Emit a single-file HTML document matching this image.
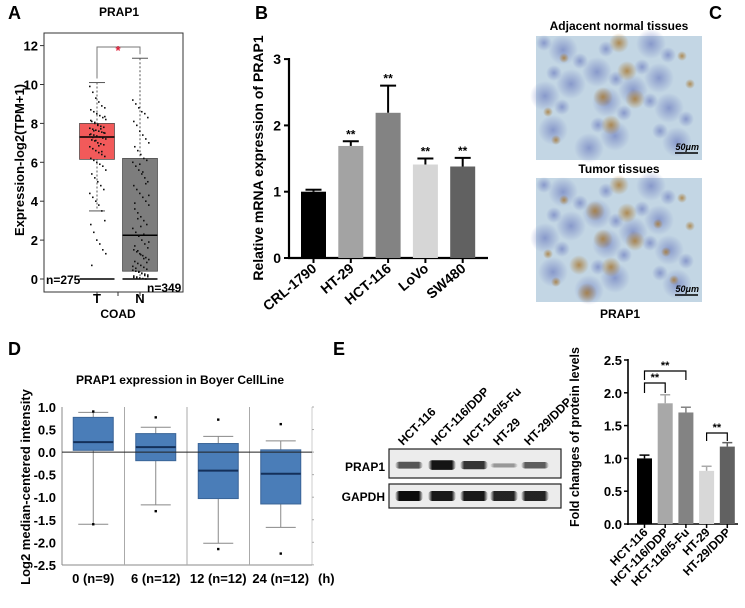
<!DOCTYPE html>
<html><head><meta charset="utf-8">
<style>
html,body{margin:0;padding:0;background:#fff;}
body{width:745px;height:603px;overflow:hidden;font-family:"Liberation Sans",Arial,sans-serif;}
svg text{font-family:"Liberation Sans",Arial,sans-serif;}
</style></head>
<body>
<svg id="fig" width="745" height="603" viewBox="0 0 745 603" xmlns="http://www.w3.org/2000/svg">
<defs>
<radialGradient id="br" cx="50%" cy="50%" r="50%"><stop offset="0" stop-color="#a87830" stop-opacity="0.8"/><stop offset="1" stop-color="#a87830" stop-opacity="0"/></radialGradient>
<radialGradient id="bl" cx="50%" cy="50%" r="50%"><stop offset="0" stop-color="#6f7fc0" stop-opacity="0.7"/><stop offset="1" stop-color="#6f7fc0" stop-opacity="0"/></radialGradient>
<linearGradient id="band" x1="0" x2="1"><stop offset="0" stop-color="#000" stop-opacity="0"/><stop offset="0.15" stop-color="#000"/><stop offset="0.85" stop-color="#000"/><stop offset="1" stop-color="#000" stop-opacity="0"/></linearGradient>
</defs>
<g id="pA"></g>
<g id="pB"></g>
<g id="pC"></g>
<g id="pD"></g>
<g id="pE"></g>
</svg>
<script>
// ---------- Panel A data ----------
const aGroups = ["T","N"];
const aCounts = ["n=275","n=349"];
const aQ1 = [6.15, 0.4];
const aQ3 = [8.0, 6.2];
const aMed = [7.3, 2.25];
const aWhiskLo = [3.5, 0];
const aWhiskHi = [10.1, 11.35];
const aTicks = [0,2,4,6,8,10,12];
const aPointsT = [9.9,9.6,9.3,9.1,8.9,8.8,8.7,8.6,8.5,8.4,8.3,8.2,8.1,8.0,7.9,7.85,7.8,7.75,7.7,7.65,7.6,7.55,7.5,7.45,7.4,7.35,7.3,7.25,7.2,7.15,7.1,7.0,6.95,6.9,6.8,6.7,6.6,6.5,6.4,6.3,6.2,6.1,6.0,5.9,5.8,5.6,5.4,5.2,5.0,4.8,4.6,4.4,4.2,4.0,3.8,3.5,3.0,2.8,2.4,2.0,1.8,1.5,1.3,0.7,8.05,7.95,7.72,7.52,7.42,7.28,7.12,6.85,6.55,8.35,8.15,7.62];
const aPointsN = [9.2,9.0,8.8,8.6,8.5,8.3,8.1,7.9,7.6,7.4,7.2,7.0,6.8,6.6,6.4,6.2,6.1,6.0,5.8,5.6,5.4,5.2,5.0,4.8,4.6,4.4,4.2,4.0,3.8,3.6,3.4,3.2,3.0,2.8,2.6,2.4,2.2,2.0,1.8,1.6,1.5,1.4,1.3,1.2,1.1,1.0,0.9,0.8,0.7,0.6,0.5,0.45,0.4,0.35,0.3,0.25,0.2,0.15,0.1,0.05,0.02,0.0,1.9,1.7,1.45,1.25,1.05,0.85,0.65,0.55,0.38,0.28,0.18,0.12,0.08,0.03,5.9,5.5,4.9,4.3,3.9,3.1,2.7,2.3];

// ---------- Panel B data ----------
const bCats = ["CRL-1790","HT-29","HCT-116","LoVo","SW480"];
const bVals = [1.0, 1.69, 2.19, 1.41, 1.38];
const bErr = [0.03, 0.07, 0.41, 0.09, 0.13];
const bSig = ["","**","**","**","**"];
const bTicks = [0,1,2,3];

// ---------- Panel D data ----------
const dCats = ["0 (n=9)","6 (n=12)","12 (n=12)","24 (n=12)"];
const dQ1 = [0.04, -0.19, -1.03, -1.15];
const dMed = [0.22, 0.11, -0.41, -0.48];
const dQ3 = [0.77, 0.41, 0.19, 0.05];
const dWLo = [-1.6, -1.17, -2.02, -1.67];
const dWHi = [0.88, 0.55, 0.35, 0.25];
const dOutHi = [0.9, 0.77, 0.72, 0.62];
const dOutLo = [-1.6, -1.31, -2.15, -2.25];
const dTicks = [1.0,0.5,0.0,-0.5,-1.0,-1.5,-2.0,-2.5];

// ---------- Panel E data ----------
const eCats = ["HCT-116","HCT-116/DDP","HCT-116/5-Fu","HT-29","HT-29/DDP"];
const eVals = [1.0, 1.84, 1.70, 0.81, 1.18];
const eErr = [0.05, 0.13, 0.08, 0.07, 0.06];
const eTicks = [0.0,0.5,1.0,1.5,2.0,2.5];
const eBands = [0.55, 0.95, 0.75, 0.15, 0.5];
const eGapdh = [0.95, 0.9, 0.9, 0.85, 0.85];

const NS="http://www.w3.org/2000/svg";
function mk(parent, tag, attrs, txt){
  const e=document.createElementNS(NS,tag);
  for(const k in attrs) e.setAttribute(k,attrs[k]);
  if(txt!==undefined) e.textContent=txt;
  parent.appendChild(e); return e;
}

// ===== Panel A =====
(function(){
  const g=document.getElementById('pA');
  const y=v=>279-v*19.45;
  const cx=[97,140], hw=[17.5,17.5];
  let t=mk(g,'text',{x:8,y:19,'font-size':18,'font-weight':'bold'},'A');
   
  t=mk(g,'text',{x:119,y:16,'font-size':12,'font-weight':'bold','text-anchor':'middle'},'PRAP1');
   
  let r=mk(g,'rect',{x:44,y:33,width:139,height:259,fill:'none',stroke:'#333','stroke-width':1});
   
  aTicks.forEach(v=>{
    mk(g,'line',{x1:40,x2:44,y1:y(v),y2:y(v),stroke:'#333'});
    let tt=mk(g,'text',{x:38,y:y(v)+5,'font-size':13,'font-weight':'bold','text-anchor':'end'},String(v));
     
  });
  t=mk(g,'text',{transform:'translate(24,160) rotate(-90)','font-size':13,'font-weight':'bold','text-anchor':'middle'},'Expression-log2(TPM+1)');
   
  const cols=['#f25a5a','#7d7d7d'];
  const pts=[aPointsT,aPointsN];
  aGroups.forEach((gn,i)=>{
    const x=cx[i];
    mk(g,'line',{x1:x,x2:x,y1:y(aWhiskHi[i]),y2:y(aWhiskLo[i]),stroke:'#555','stroke-dasharray':'2,2'});
    mk(g,'line',{x1:x-8,x2:x+8,y1:y(aWhiskHi[i]),y2:y(aWhiskHi[i]),stroke:'#555'});
    mk(g,'line',{x1:x-8,x2:x+8,y1:y(aWhiskLo[i]),y2:y(aWhiskLo[i]),stroke:'#555'});
    let b=mk(g,'rect',{x:x-hw[i],y:y(aQ3[i]),width:hw[i]*2,height:y(aQ1[i])-y(aQ3[i]),fill:cols[i],stroke:'#444','stroke-width':0.7});
     
    mk(g,'line',{x1:x-hw[i],x2:x+hw[i],y1:y(aMed[i]),y2:y(aMed[i]),stroke:'#000','stroke-width':1.5});
    mk(g,'line',{x1:x-hw[i],x2:x+hw[i],y1:y(0),y2:y(0),stroke:'#000','stroke-width':1.5});
    pts[i].forEach((v,k)=>{
      const off=((k*37)%17)-8;
      const c=mk(g,'rect',{x:x+off,y:y(v)-0.8,width:1.6,height:1.6,fill:'#111'});
       
    });
    mk(g,'line',{x1:x,x2:x,y1:292,y2:296,stroke:'#333'});
    let tl=mk(g,'text',{x:x,y:303,'font-size':13,'font-weight':'bold','text-anchor':'middle'},gn);
     
  });
  mk(g,'line',{x1:118,x2:118,y1:292,y2:296,stroke:'#333'});
  t=mk(g,'text',{x:46,y:284,'font-size':12,'font-weight':'bold'},aCounts[0]);
   
  t=mk(g,'text',{x:147,y:292,'font-size':12,'font-weight':'bold'},aCounts[1]);
   
  t=mk(g,'text',{x:118,y:318,'font-size':12,'font-weight':'bold','text-anchor':'middle'},'COAD');
   
  mk(g,'path',{d:`M${cx[0]} ${y(aWhiskHi[0])-4} V47 H${cx[1]} V${y(aWhiskHi[1])-4}`,fill:'none',stroke:'#777'});
  t=mk(g,'text',{x:118,y:55,'font-size':13,fill:'#e0203a','text-anchor':'middle','font-weight':'bold'},'*');
   
})();

// ===== Panel B =====
(function(){
  const g=document.getElementById('pB');
  const y=v=>258-v*66.3;
  const x0=301, step=37.3, bw=25;
  const cols=['#000','#a3a3a3','#838383','#d6d6d6','#616161'];
  let t=mk(g,'text',{x:255,y:19,'font-size':18,'font-weight':'bold'},'B');
   
  mk(g,'line',{x1:289,x2:289,y1:58,y2:259,stroke:'#000','stroke-width':2.2});
  mk(g,'line',{x1:288,x2:488,y1:258,y2:258,stroke:'#000','stroke-width':2.2});
  bTicks.forEach(v=>{
    mk(g,'line',{x1:284,x2:289,y1:y(v),y2:y(v),stroke:'#000','stroke-width':2});
    let tt=mk(g,'text',{x:281,y:y(v)+5,'font-size':14,'font-weight':'bold','text-anchor':'end'},String(v));
     
  });
  t=mk(g,'text',{transform:'translate(263,158) rotate(-90)','font-size':14,'font-weight':'bold','text-anchor':'middle'},'Relative mRNA expression of PRAP1');
   
  bCats.forEach((c,i)=>{
    const x=x0+i*step, cxp=x+bw/2;
    const top=bVals[i]+bErr[i];
    mk(g,'line',{x1:cxp,x2:cxp,y1:y(bVals[i]),y2:y(top),stroke:'#000','stroke-width':2});
    mk(g,'line',{x1:cxp-8,x2:cxp+8,y1:y(top),y2:y(top),stroke:'#000','stroke-width':2});
    let b=mk(g,'rect',{x:x,y:y(bVals[i]),width:bw,height:y(0)-y(bVals[i]),fill:cols[i]});
     
    if(bSig[i]){let s=mk(g,'text',{x:cxp,y:y(top)-3,'font-size':12,'font-weight':'bold','text-anchor':'middle'},bSig[i]);
       }
    mk(g,'line',{x1:cxp,x2:cxp,y1:258,y2:263,stroke:'#000','stroke-width':2});
    let tl=mk(g,'text',{transform:`translate(${cxp+4},${270}) rotate(-40)`,'font-size':14,'font-weight':'bold','text-anchor':'end'},c);
     
  });
})();

// ===== Panel C =====
(function(){
  const g=document.getElementById('pC');
  let t=mk(g,'text',{x:709,y:19,'font-size':18,'font-weight':'bold'},'C');
   
  const titles=['Adjacent normal tissues','Tumor tissues'];
  const tys=[30,173], iys=[36,178];
  const names=['ihc-normal-image','ihc-tumor-image'];
  titles.forEach((s,i)=>{
    let tt=mk(g,'text',{x:619,y:tys[i],'font-size':12,'font-weight':'bold','text-anchor':'middle'},s);
     
    const im=mk(g,'g',{});
     
    mk(im,'rect',{x:536,y:iys[i],width:166,height:124,fill:'#c3d6e4'});
    for(let k=0;k<26;k++){
      const bx=536+((k*53)%150)+8, by=iys[i]+((k*29)%110)+7, rr=8+(k*7)%14;
      mk(im,'circle',{cx:bx,cy:by,r:rr,fill:'url(#bl)'});
    }
    for(let k=0;k<(i?16:10);k++){
      const bx=536+((k*71+20)%150)+8, by=iys[i]+((k*41+15)%110)+7, rr=5+(k*5)%10;
      mk(im,'circle',{cx:bx,cy:by,r:rr,fill:'url(#br)'});
    }
    let sb=mk(im,'text',{x:699,y:iys[i]+114,'font-size':9,'font-style':'italic','font-weight':'bold','text-anchor':'end','font-family':'Liberation Serif,serif'},'50μm');
     
    mk(im,'line',{x1:675,x2:698,y1:iys[i]+117,y2:iys[i]+117,stroke:'#000','stroke-width':1.5});
  });
  t=mk(g,'text',{x:620,y:318,'font-size':12,'font-weight':'bold','text-anchor':'middle'},'PRAP1');
   
})();

// ===== Panel D =====
(function(){
  const g=document.getElementById('pD');
  const y=v=>407+(1-v)*45.1;
  const L=62,R=312,T=407,B=565;
  const gw=(R-L)/dCats.length;
  let t=mk(g,'text',{x:8,y:355,'font-size':18,'font-weight':'bold'},'D');
   
  t=mk(g,'text',{x:180,y:384,'font-size':12,'font-weight':'bold','text-anchor':'middle'},'PRAP1 expression in Boyer CellLine');
   
  mk(g,'line',{x1:L,x2:L,y1:T,y2:B,stroke:'#888'});
  mk(g,'line',{x1:R,x2:R,y1:T,y2:B,stroke:'#ccc'});
  mk(g,'line',{x1:L,x2:R,y1:B,y2:B,stroke:'#888'});
  for(let i=1;i<dCats.length;i++) mk(g,'line',{x1:L+i*gw,x2:L+i*gw,y1:T,y2:B,stroke:'#aaa'});
  dTicks.forEach(v=>{
    let tt=mk(g,'text',{x:56,y:y(v)+5,'font-size':13,'font-weight':'bold','text-anchor':'end'},v.toFixed(1));
     
    mk(g,'line',{x1:R,x2:R+2,y1:y(v),y2:y(v),stroke:'#aaa'});
  });
  t=mk(g,'text',{transform:'translate(30,487) rotate(-90)','font-size':13,'font-weight':'bold','text-anchor':'middle'},'Log2 median-centered intensity');
   
  dCats.forEach((c,i)=>{
    const cx=L+gw*(i+0.5), hw=20;
    mk(g,'line',{x1:cx,x2:cx,y1:y(dWHi[i]),y2:y(dWLo[i]),stroke:'#888'});
    mk(g,'line',{x1:cx-15,x2:cx+15,y1:y(dWHi[i]),y2:y(dWHi[i]),stroke:'#888'});
    mk(g,'line',{x1:cx-15,x2:cx+15,y1:y(dWLo[i]),y2:y(dWLo[i]),stroke:'#888'});
    let b=mk(g,'rect',{x:cx-hw,y:y(dQ3[i]),width:hw*2,height:y(dQ1[i])-y(dQ3[i]),fill:'#4a7db8',stroke:'#3a6598'});
     
    mk(g,'line',{x1:cx-hw,x2:cx+hw,y1:y(dMed[i]),y2:y(dMed[i]),stroke:'#14305a','stroke-width':2});
    [dOutHi[i],dOutLo[i]].forEach(v=>{
      let d=mk(g,'rect',{x:cx-1.2,y:y(v)-1.2,width:2.4,height:2.4,fill:'#000'});
       
    });
    let tl=mk(g,'text',{x:cx,y:583,'font-size':13,'font-weight':'bold','text-anchor':'middle'},c);
     
  });
  mk(g,'line',{x1:L,x2:R,y1:y(0),y2:y(0),stroke:'#222'});
  t=mk(g,'text',{x:318,y:583,'font-size':13,'font-weight':'bold'},'(h)');
   
})();

// ===== Panel E =====
(function(){
  const g=document.getElementById('pE');
  let t=mk(g,'text',{x:333,y:355,'font-size':18,'font-weight':'bold'},'E');
   
  const blot=mk(g,'g',{});
   
  const lanes=[409,442,474,504,535];
  mk(blot,'rect',{x:389,y:449,width:172,height:29,fill:'#ececec',stroke:'#222','stroke-width':1.2});
  mk(blot,'rect',{x:389,y:484,width:172,height:24,fill:'#ececec',stroke:'#222','stroke-width':1.2});
  eCats.forEach((c,i)=>{
    let b1=mk(blot,'rect',{x:lanes[i]-14,y:464-4*eBands[i],width:28,height:3+7*eBands[i],rx:4,fill:'url(#band)',opacity:0.25+0.7*eBands[i]});
     
    let b2=mk(blot,'rect',{x:lanes[i]-14,y:491,width:28,height:10,rx:4,fill:'url(#band)',opacity:eGapdh[i]});
     
    let lab=mk(blot,'text',{transform:`translate(${lanes[i]-6},${446}) rotate(-45)`,'font-size':12,'font-weight':'bold'},c);
     
  });
  t=mk(g,'text',{x:385,y:471,'font-size':12,'font-weight':'bold','text-anchor':'end'},'PRAP1');
   
  t=mk(g,'text',{x:385,y:501,'font-size':12,'font-weight':'bold','text-anchor':'end'},'GAPDH');
   
  const y=v=>524-v*65.6;
  const x0=637, step=20.7, bw=15;
  const cols=['#000','#a8a8a8','#838383','#d8d8d8','#616161'];
  mk(g,'line',{x1:628,x2:628,y1:359,y2:525,stroke:'#000','stroke-width':1.6});
  mk(g,'line',{x1:627,x2:738,y1:524,y2:524,stroke:'#000','stroke-width':1.6});
  eTicks.forEach(v=>{
    mk(g,'line',{x1:624,x2:628,y1:y(v),y2:y(v),stroke:'#000','stroke-width':1.5});
    let tt=mk(g,'text',{x:622,y:y(v)+5,'font-size':13,'font-weight':'bold','text-anchor':'end'},v.toFixed(1));
     
  });
  t=mk(g,'text',{transform:'translate(579,437) rotate(-90)','font-size':12.5,'font-weight':'bold','text-anchor':'middle'},'Fold changes of protein levels');
   
  const cxs=[];
  eCats.forEach((c,i)=>{
    const x=x0+i*step, cxp=x+bw/2; cxs.push(cxp);
    const top=eVals[i]+eErr[i];
    mk(g,'line',{x1:cxp,x2:cxp,y1:y(eVals[i]),y2:y(top),stroke:cols[i]==='#d8d8d8'?'#aaa':cols[i],'stroke-width':1.5});
    mk(g,'line',{x1:cxp-5,x2:cxp+5,y1:y(top),y2:y(top),stroke:cols[i]==='#d8d8d8'?'#aaa':cols[i],'stroke-width':1.5});
    let b=mk(g,'rect',{x:x,y:y(eVals[i]),width:bw,height:y(0)-y(eVals[i]),fill:cols[i]});
     
    mk(g,'line',{x1:cxp,x2:cxp,y1:524,y2:528,stroke:'#000','stroke-width':1.5});
    let tl=mk(g,'text',{transform:`translate(${cxp+4},${533}) rotate(-45)`,'font-size':12,'font-weight':'bold','text-anchor':'end'},c);
     
  });
  const brackets=[[0,1,383,393],[0,2,371,380],[3,4,433,441]];
  brackets.forEach(([a,b,yt,yb])=>{
    mk(g,'path',{d:`M${cxs[a]} ${yb} V${yt} H${cxs[b]} V${yb}`,fill:'none',stroke:'#000','stroke-width':1.2});
    let s=mk(g,'text',{x:(cxs[a]+cxs[b])/2,y:yt-2,'font-size':11,'font-weight':'bold','text-anchor':'middle'},'**');
     
  });
})();
</script>
</body></html>
